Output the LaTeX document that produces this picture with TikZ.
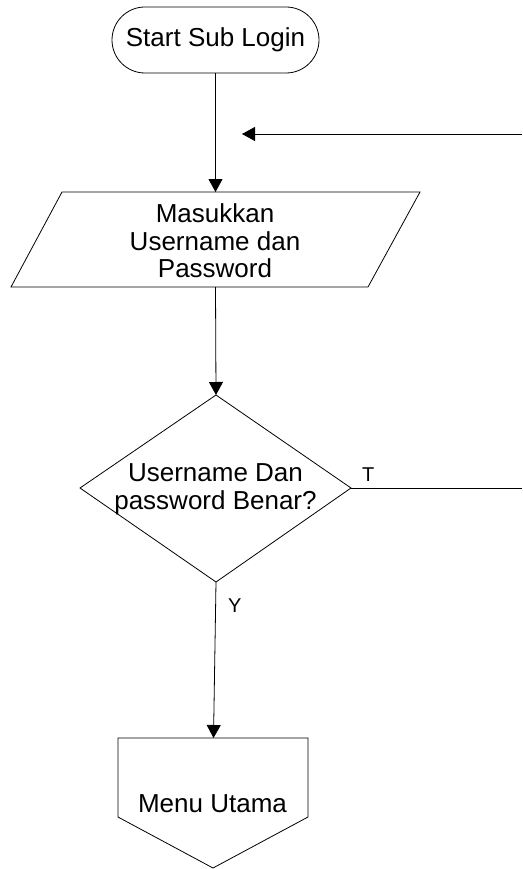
\documentclass[tikz,border=0pt]{standalone}
\usepackage{fontspec}
\setmainfont{Liberation Sans}
\usetikzlibrary{arrows.meta}
\begin{document}
\begin{tikzpicture}[x=1pt,y=-1pt,
  shapeline/.style={draw=black,line width=0.8pt},
  flow/.style={draw=black,line width=0.8pt,-{Triangle[length=13pt,width=14pt]}},
  plain/.style={draw=black,line width=0.8pt},
  bigtext/.style={font=\fontsize{26}{27.5}\selectfont,inner sep=0pt,align=center},
  lbl/.style={font=\fontsize{20}{22}\selectfont,inner sep=0pt}]
\useasboundingbox (0,0) rectangle (522,869);

% Start terminal
\node[shapeline,rounded corners=33pt,minimum width=207pt,minimum height=66pt,
      inner sep=0pt,font=\fontsize{26}{27.5}\selectfont] (start) at (215.5,40) {Start Sub Login};

% Parallelogram (input)
\coordinate (pTL) at (62,192);
\coordinate (pTR) at (420,192);
\coordinate (pBR) at (368,287);
\coordinate (pBL) at (11,287);
\draw[shapeline] (pTL) -- (pTR) -- (pBR) -- (pBL) -- cycle;
\coordinate (pTop) at (215.5,192);
\coordinate (pBot) at (215.5,287);
\node[bigtext] (input) at (215,241) {Masukkan\\Username dan\\Password};

% Decision diamond
\coordinate (dT) at (216,395);
\coordinate (dL) at (80,488);
\coordinate (dR) at (351,488);
\coordinate (dB) at (216,582);
\draw[shapeline] (dT) -- (dR) -- (dB) -- (dL) -- cycle;
\node[bigtext] (dec) at (215.5,489) {Username Dan\\password Benar?};

% Off-page connector
\coordinate (mTL) at (118,738);
\coordinate (mTR) at (308,738);
\coordinate (mR) at (308,817);
\coordinate (mB) at (213,868);
\coordinate (mL) at (118,817);
\draw[shapeline] (mTL) -- (mTR) -- (mR) -- (mB) -- (mL) -- cycle;
\coordinate (mTop) at (213.5,738);
\node[bigtext,anchor=base] (menu) at (212.5,812) {Menu Utama};

% Connectors
\draw[flow] (start.south) -- (pTop);
\draw[flow] (pBot) -- (dT);
\draw[flow] (dB) -- (mTop);
\coordinate (loopR) at (522,488);
\coordinate (backR) at (522,134);
\coordinate (backL) at (242,134);
\draw[plain] (dR) -- (loopR);
\draw[flow] (backR) -- (backL);

% Labels
\node[lbl,anchor=base west] (tlbl) at (362,481) {T};
\node[lbl,anchor=base west] (ylbl) at (228,612) {Y};
\end{tikzpicture}
\end{document}
